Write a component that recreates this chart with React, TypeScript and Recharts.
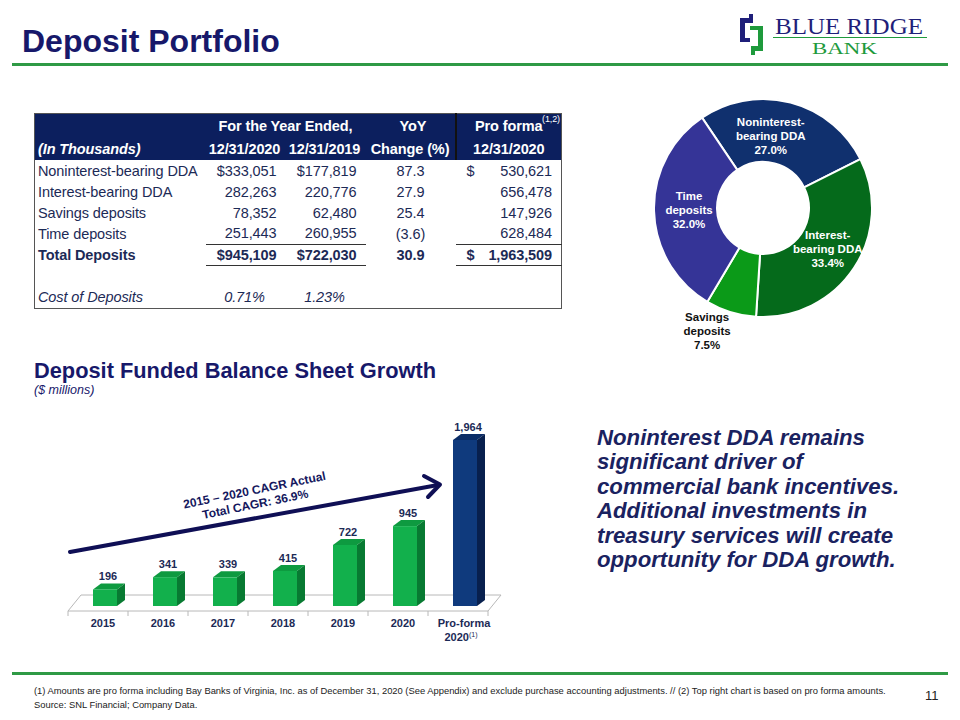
import React from 'react';
import { BarChart, Bar, XAxis, YAxis, LabelList, PieChart, Pie, Cell } from 'recharts';

const FONT = "'Liberation Sans', Arial, Helvetica, sans-serif";
const NAVY = '#1c2a56';
const HEAD_BG = '#0c1f5e';
const TITLE = '#17186a';

// ---------- Table data ----------
const tableLabels = ['Noninterest-bearing DDA', 'Interest-bearing DDA', 'Savings deposits', 'Time deposits'];
const dep2020 = ['$333,051', '282,263', '78,352', '251,443'];
const dep2019 = ['$177,819', '220,776', '62,480', '260,955'];
const yoyChange = ['87.3', '27.9', '25.4', '(3.6)'];
const proForma = ['530,621', '656,478', '147,926', '628,484'];
const totalRow = ['Total Deposits', '$945,109', '$722,030', '30.9', '1,963,509'];
const costRow = ['Cost of Deposits', '0.71%', '1.23%'];

// ---------- Donut data ----------
const mixLabelLines = [['Noninterest-', 'bearing DDA'], ['Interest-', 'bearing DDA'], ['Savings', 'deposits'], ['Time', 'deposits']];
const mixShares = [27.0, 33.4, 7.5, 32.0];
const mixShareLabels = ['27.0%', '33.4%', '7.5%', '32.0%'];
const mixColors = ['#10306e', '#056a1b', '#0b9a18', '#353497'];

// ---------- Bar data ----------
const growthYears = ['2015', '2016', '2017', '2018', '2019', '2020', 'Pro-forma'];
const growthValues = [196, 341, 339, 415, 722, 945, 1964];
const growthLabels = ['196', '341', '339', '415', '722', '945', '1,964'];

const mixData = mixShares.map((v, i) => ({ name: mixLabelLines[i].join(' '), value: v, idx: i }));
const growthData = growthYears.map((y, i) => ({ year: y, value: growthValues[i], label: growthLabels[i], pro: i === growthYears.length - 1 }));

const RAD = Math.PI / 180;
const labelNudge = [[-11, 0], [3, 0], [-16, -6], [0, 0]];

const renderMixLabel = (p: any) => {
  const { cx, cy, midAngle, index } = p;
  const r = index === 2 ? 135 : 74;
  const x = cx + r * Math.cos(-midAngle * RAD) + labelNudge[index][0];
  const y = cy + r * Math.sin(-midAngle * RAD) + labelNudge[index][1];
  const lines = [...mixLabelLines[index], mixShareLabels[index]];
  const fill = index === 2 ? '#111' : '#fff';
  return (
    <text x={x} y={y - 10} textAnchor="middle" fill={fill} fontFamily={FONT} fontWeight="bold" fontSize={11.5}>
      {lines.map((l, k) => (
        <tspan key={k} x={x} dy={k === 0 ? 0 : 14}>{l}</tspan>
      ))}
    </text>
  );
};

const Bar3D = (p: any) => {
  const { x, y, width, height, payload } = p;
  if (height == null || width == null) return null;
  const d = 8, e = 6;
  const pro = payload && payload.pro;
  const front = pro ? '#0f3a7d' : '#12b04c';
  const side = pro ? '#08204e' : '#087a32';
  const top = pro ? '#0b2c66' : '#0e9a40';
  return (
    <g>
      <polygon points={`${x},${y} ${x + d},${y - e} ${x + width + d},${y - e} ${x + width},${y}`} fill={top} />
      <polygon points={`${x + width},${y} ${x + width + d},${y - e} ${x + width + d},${y + height - e} ${x + width},${y + height}`} fill={side} />
      <rect x={x} y={y} width={width} height={height} fill={front} />
    </g>
  );
};

const FloorTick = (p: any) => {
  const { x, y, payload, index } = p;
  const half = 30;
  const fx = -7, fy = 5, bx = 6, by = -11;
  const last = index === growthYears.length - 1;
  const stroke = '#b8b8b8';
  const val = payload.value;
  return (
    <g>
      <line x1={x - half + fx} y1={y + fy} x2={x + half + fx} y2={y + fy} stroke={stroke} />
      <line x1={x - half + bx} y1={y + by} x2={x - 12} y2={y + by} stroke={stroke} />
      <line x1={x + 20} y1={y + by} x2={x + half + bx} y2={y + by} stroke={stroke} />
      <line x1={x - half + fx} y1={y + fy} x2={x - half + fx} y2={y + fy + 5} stroke={stroke} />
      {index === 0 && <line x1={x - half + fx} y1={y + fy} x2={x - half + bx} y2={y + by} stroke={stroke} />}
      {last && <line x1={x + half + fx} y1={y + fy} x2={x + half + bx} y2={y + by} stroke={stroke} />}
      {last && <line x1={x + half + fx} y1={y + fy} x2={x + half + fx} y2={y + fy + 5} stroke={stroke} />}
      {val === 'Pro-forma' ? (
        <text x={x - 1} y={y + 21} textAnchor="middle" fill={NAVY} fontFamily={FONT} fontWeight="bold" fontSize={11}>
          <tspan x={x - 1}>Pro-forma</tspan>
          <tspan x={x - 4} dy={14}>2020</tspan>
          <tspan fontWeight="normal" fontSize={7} dy={-4}>(1)</tspan>
        </text>
      ) : (
        <text x={x - 2} y={y + 21} textAnchor="middle" fill={NAVY} fontFamily={FONT} fontWeight="bold" fontSize={11}>{val}</text>
      )}
    </g>
  );
};

const ValueLabel = (p: any) => {
  const { x, y, width, value } = p;
  return (
    <text x={x + width / 2 + 3} y={y - 9} textAnchor="middle" fill={NAVY} fontFamily={FONT} fontWeight="bold" fontSize={11}>{value}</text>
  );
};

const cellBase: React.CSSProperties = { padding: 0, whiteSpace: 'nowrap', overflow: 'visible' };

function DepositTable() {
  const hdr: React.CSSProperties = { ...cellBase, color: '#fff', fontWeight: 'bold', textAlign: 'center', height: 23, background: HEAD_BG };
  const divider: React.CSSProperties = { borderLeft: '2px solid #111' };
  const row: React.CSSProperties = { height: 21 };
  const lbl: React.CSSProperties = { ...cellBase, paddingLeft: 3, textAlign: 'left' };
  const r20: React.CSSProperties = { ...cellBase, textAlign: 'right', paddingRight: 7 };
  const r19: React.CSSProperties = { ...cellBase, textAlign: 'right', paddingRight: 9 };
  const ctr: React.CSSProperties = { ...cellBase, textAlign: 'center' };
  const ul: React.CSSProperties = { borderBottom: '1px solid #333' };
  const proCell = (dollar: boolean, v: string, extra?: React.CSSProperties) => (
    <td style={{ ...cellBase, ...extra }}>
      <div style={{ display: 'flex', justifyContent: 'space-between', paddingLeft: 11, paddingRight: 9 }}>
        <span>{dollar ? '$' : ''}</span>
        <span>{v}</span>
      </div>
    </td>
  );
  return (
    <table style={{ position: 'absolute', left: 34, top: 113, width: 527, borderCollapse: 'collapse', tableLayout: 'fixed', border: '1px solid #555', fontFamily: FONT, fontSize: 14.5, color: NAVY, letterSpacing: -0.1 }}>
      <colgroup>
        <col style={{ width: 171 }} />
        <col style={{ width: 78 }} />
        <col style={{ width: 82 }} />
        <col style={{ width: 90 }} />
        <col style={{ width: 106 }} />
      </colgroup>
      <tbody>
        <tr>
          <td style={hdr}></td>
          <td style={hdr} colSpan={2}>For the Year Ended,</td>
          <td style={{ ...hdr, paddingLeft: 6 }}>YoY</td>
          <td style={{ ...hdr, ...divider, position: 'relative' }}>
            Pro forma
            <span style={{ position: 'absolute', right: 1, top: 0, fontSize: 9, fontWeight: 'normal' }}>(1,2)</span>
          </td>
        </tr>
        <tr>
          <td style={{ ...hdr, textAlign: 'left', paddingLeft: 3, fontStyle: 'italic' }}>(In Thousands)</td>
          <td style={hdr}>12/31/2020</td>
          <td style={hdr}>12/31/2019</td>
          <td style={hdr}>Change (%)</td>
          <td style={{ ...hdr, ...divider }}>12/31/2020</td>
        </tr>
        {tableLabels.map((l, i) => {
          const last = i === tableLabels.length - 1;
          return (
            <tr key={l} style={row}>
              <td style={lbl}>{l}</td>
              <td style={{ ...r20, ...(last ? ul : {}) }}>{dep2020[i]}</td>
              <td style={{ ...r19, ...(last ? ul : {}) }}>{dep2019[i]}</td>
              <td style={ctr}>{yoyChange[i]}</td>
              {proCell(i === 0, proForma[i], last ? ul : {})}
            </tr>
          );
        })}
        <tr style={{ ...row, fontWeight: 'bold' }}>
          <td style={lbl}>{totalRow[0]}</td>
          <td style={{ ...r20, ...ul }}>{totalRow[1]}</td>
          <td style={{ ...r19, ...ul }}>{totalRow[2]}</td>
          <td style={ctr}>{totalRow[3]}</td>
          {proCell(true, totalRow[4], ul)}
        </tr>
        <tr style={{ height: 22 }}><td colSpan={5}></td></tr>
        <tr style={{ ...row, fontStyle: 'italic' }}>
          <td style={lbl}>{costRow[0]}</td>
          <td style={ctr}>{costRow[1]}</td>
          <td style={ctr}>{costRow[2]}</td>
          <td></td>
          <td></td>
        </tr>
      </tbody>
    </table>
  );
}

function Logo() {
  const navy = '#1f1f7a';
  const green = '#1e9a3c';
  return (
    <svg style={{ position: 'absolute', left: 730, top: 5 }} width={220} height={55}>
      <path d="M10 13 H19 V9 H23 V18 H15 V33 H20 V37 H10 Z" fill={navy} />
      <path d="M20 21 H33 V46 H25 V50 H21 V41 H28 V25 H20 Z" fill={green} />
      <text x={45} y={29} fontFamily="'Liberation Serif', 'DejaVu Serif', serif" fontSize={23} fill={navy} textLength={148} lengthAdjust="spacingAndGlyphs">BLUE RIDGE</text>
      <line x1={43} y1={32.5} x2={197} y2={32.5} stroke={green} strokeWidth={1} />
      <text x={82} y={49} fontFamily="'Liberation Serif', 'DejaVu Serif', serif" fontSize={17} fill={green} textLength={65} lengthAdjust="spacingAndGlyphs">BANK</text>
    </svg>
  );
}

export default function App() {
  return (
    <div style={{ position: 'absolute', left: 0, top: 0, width: 960, height: 720, background: '#fff', fontFamily: FONT, overflow: 'hidden' }}>
      <div style={{ position: 'absolute', left: 22, top: 22, fontSize: 32, fontWeight: 'bold', color: TITLE, lineHeight: '38px', whiteSpace: 'nowrap' }}>Deposit Portfolio</div>
      <Logo />
      <div style={{ position: 'absolute', left: 12, top: 63, width: 936, height: 3, background: '#2f9a45' }} />

      <DepositTable />

      <div style={{ position: 'absolute', left: 600, top: 80 }}>
        <PieChart width={330} height={290} margin={{ top: 0, right: 0, bottom: 0, left: 0 }}>
          <Pie
            data={mixData}
            dataKey="value"
            cx={163}
            cy={128}
            innerRadius={46}
            outerRadius={109}
            startAngle={124}
            endAngle={-236}
            stroke="#fff"
            strokeWidth={2}
            labelLine={false}
            label={renderMixLabel}
            isAnimationActive={false}
          >
            {mixData.map((d, i) => (
              <Cell key={i} fill={mixColors[i]} />
            ))}
          </Pie>
        </PieChart>
      </div>

      <div style={{ position: 'absolute', left: 34, top: 359, fontSize: 21.8, fontWeight: 'bold', color: TITLE, whiteSpace: 'nowrap', lineHeight: '24px' }}>Deposit Funded Balance Sheet Growth</div>
      <div style={{ position: 'absolute', left: 34, top: 383, fontSize: 12.5, fontStyle: 'italic', color: TITLE, whiteSpace: 'nowrap', lineHeight: '15px' }}>($ millions)</div>

      <div style={{ position: 'absolute', left: 60, top: 400 }}>
        <BarChart width={460} height={250} data={growthData} margin={{ top: 20, right: 25, bottom: 14, left: 15 }}>
          <XAxis dataKey="year" height={30} interval={0} axisLine={false} tickLine={false} tickSize={0} tickMargin={0} tick={<FloorTick />} />
          <YAxis hide domain={[0, 2200]} />
          <Bar dataKey="value" barSize={24} shape={<Bar3D />} isAnimationActive={false}>
            <LabelList dataKey="label" content={<ValueLabel />} />
          </Bar>
        </BarChart>
      </div>

      <svg style={{ position: 'absolute', left: 0, top: 0, pointerEvents: 'none' }} width={960} height={720}>
        <line x1={70} y1={552} x2={438} y2={485} stroke="#0f0f55" strokeWidth={4} strokeLinecap="round" />
        <polyline points="424,476 440,484.5 428,497" fill="none" stroke="#0f0f55" strokeWidth={4} strokeLinecap="round" strokeLinejoin="round" />
        <g transform="rotate(-11.5 256 498)">
          <text x={256} y={494} textAnchor="middle" fontFamily={FONT} fontWeight="bold" fontSize={12} fill="#15185e">2015 – 2020 CAGR Actual</text>
          <text x={254} y={508} textAnchor="middle" fontFamily={FONT} fontWeight="bold" fontSize={12} fill="#15185e">Total CAGR:  36.9%</text>
        </g>
      </svg>

      <div style={{ position: 'absolute', left: 597, top: 426, fontSize: 22.2, lineHeight: '24.4px', fontWeight: 'bold', fontStyle: 'italic', color: '#1a2260', whiteSpace: 'nowrap' }}>
        Noninterest DDA remains<br />
        significant driver of<br />
        commercial bank incentives.<br />
        Additional investments in<br />
        treasury services will create<br />
        opportunity for DDA growth.
      </div>

      <div style={{ position: 'absolute', left: 12, top: 672, width: 936, height: 3, background: '#2f9a45' }} />
      <div style={{ position: 'absolute', left: 34, top: 684, fontSize: 9.4, lineHeight: '13.5px', color: '#222', whiteSpace: 'nowrap' }}>
        (1) Amounts are pro forma including Bay Banks of Virginia, Inc. as of December 31, 2020 (See Appendix) and exclude purchase accounting adjustments. // (2) Top right chart is based on pro forma amounts.<br />
        Source: SNL Financial; Company Data.
      </div>
      <div style={{ position: 'absolute', left: 925, top: 688, fontSize: 13, color: '#222' }}>11</div>
    </div>
  );
}
